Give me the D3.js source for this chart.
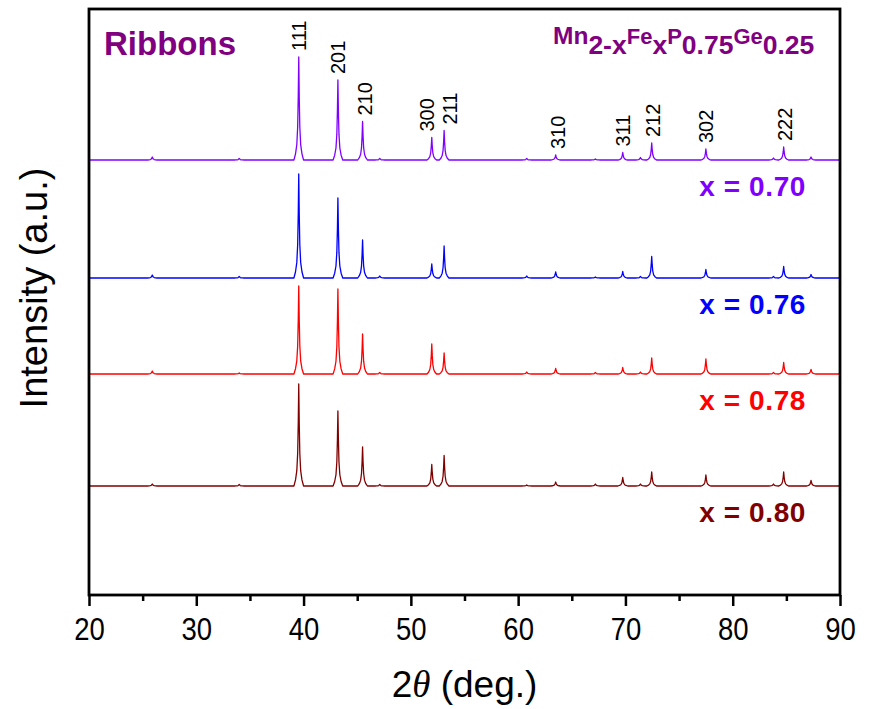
<!DOCTYPE html>
<html>
<head>
<meta charset="utf-8">
<script src="https://cdn.jsdelivr.net/npm/d3@7"></script>
<style>
  html, body { margin: 0; padding: 0; background: #fff; }
  svg { display: block; }
  text { font-family: "Liberation Sans", Arial, sans-serif; }
</style>
</head>
<body>
<svg id="chart" width="875" height="709"></svg>
<script>
// Reflection positions (2θ, deg.) present in every pattern, incl. weak impurity/background bumps
const peakPos = [25.9, 34.0, 39.55, 43.2, 45.5, 47.1, 51.95, 53.1, 60.8, 63.5, 67.2, 69.75, 71.4, 72.45, 77.5, 83.8, 84.75, 87.3];

// Peak intensities above background (a.u.) for each composition
const h070 = [3, 1.5, 103, 80, 38.5, 1.5, 22.5, 29.5, 1.5, 5, 1, 7.5, 2.5, 17, 11, 2, 13, 3];
const h076 = [3, 1.5, 104, 80, 38, 2, 14, 32, 2, 6, 1, 6.5, 1.5, 21.5, 8.5, 1.5, 11.5, 3.5];
const h078 = [3, 1, 88, 85, 40, 1.5, 30, 21, 2, 5.5, 1.5, 6.5, 2, 16, 15, 1.5, 11.5, 4.5];
const h080 = [2, 1.5, 102, 75, 39, 1.5, 21.5, 30.5, 1, 4, 2, 8.5, 2, 14, 11, 2, 14, 5.5];

// Vertical stacking offsets of the patterns (a.u.)
const offsets = [435, 317, 221, 109];
const compositions = ["x = 0.70", "x = 0.76", "x = 0.78", "x = 0.80"];

// Miller indices of the indexed reflections
const hkl = ["111", "201", "210", "300", "211", "310", "311", "212", "302", "222"];
const hklPos = [39.55, 43.2, 45.5, 51.95, 53.1, 63.5, 69.75, 72.45, 77.5, 84.75];

// Axis ticks
const majorTicks = [20, 30, 40, 50, 60, 70, 80, 90];
const minorTicks = [25, 35, 45, 55, 65, 75, 85];

// Normalised peak profile: [Δ2θ, fraction of peak height]
const profile = [[-0.45, 0], [-0.3, 0.06], [-0.18, 0.15], [-0.1, 0.32], [-0.045, 0.62], [0, 1],
                 [0.045, 0.62], [0.1, 0.32], [0.18, 0.15], [0.3, 0.06], [0.45, 0]];

const colors = ["#8000ff", "#0000ff", "#ff0000", "#800000"];
const heights = [h070, h076, h078, h080];

const svg = d3.select("#chart");
const margin = { left: 89, right: 35, top: 9, bottom: 114 };
const W = 875, H = 709;
const x = d3.scaleLinear().domain([20, 90]).range([margin.left, W - margin.right]);
const y = d3.scaleLinear().domain([0, 586]).range([H - margin.bottom, margin.top]);

svg.append("defs").append("clipPath").attr("id", "plot-clip")
  .append("rect")
  .attr("x", x(20)).attr("y", y(586))
  .attr("width", x(90) - x(20)).attr("height", y(0) - y(586));

// Build the polyline of one pattern from its peak list
function patternPoints(hs, off) {
  const pts = [[20, off]];
  peakPos.forEach((p, i) => {
    profile.forEach(([d, f]) => pts.push([p + d, off + hs[i] * f]));
  });
  pts.push([90, off]);
  return pts;
}

const line = d3.line().x(d => x(d[0])).y(d => y(d[1]));

const traces = svg.append("g").attr("clip-path", "url(#plot-clip)");
heights.forEach((hs, k) => {
  traces.append("path")
    .attr("d", line(patternPoints(hs, offsets[k])))
    .attr("fill", "none")
    .attr("stroke", colors[k])
    .attr("stroke-width", 1.3)
    .attr("stroke-linejoin", "round");
});

// Composition labels under each pattern
compositions.forEach((c, k) => {
  svg.append("text")
    .attr("x", 806)
    .attr("y", y(offsets[k]) + 36)
    .attr("text-anchor", "end")
    .attr("font-size", 28)
    .attr("letter-spacing", 0.6)
    .attr("font-weight", "bold")
    .attr("fill", colors[k])
    .text(c);
});

// hkl labels over the top pattern
const nudge = { "210": 2, "300": -5, "211": 6, "310": 2, "212": 1, "222": 1 };
hkl.forEach((lab, i) => {
  const idx = peakPos.indexOf(hklPos[i]);
  const top = y(offsets[0] + h070[idx]) - 6;
  const cx = x(hklPos[i]) + (nudge[lab] || 0);
  svg.append("text")
    .attr("transform", `translate(${cx},${top}) rotate(-90)`)
    .attr("dy", "0.36em")
    .attr("font-size", 20)
    .attr("fill", "#000")
    .text(lab);
});

// X axis: major and minor ticks (labels set in a condensed style)
const xAxis = d3.axisBottom(x).tickValues(majorTicks).tickSize(11).tickPadding(13).tickFormat(d3.format("d"));
const gx = svg.append("g").attr("transform", `translate(0,${y(0)})`).call(xAxis);
gx.select(".domain").remove();
gx.selectAll(".tick line").attr("stroke", "#000").attr("stroke-width", 2.5);
gx.selectAll(".tick text")
  .attr("font-size", 32).attr("fill", "#000")
  .attr("font-family", "'Liberation Sans', Arial, sans-serif")
  .attr("y", 0).attr("dy", null)
  .attr("transform", "translate(0,45) scale(0.86,1)");

const xMinor = d3.axisBottom(x).tickValues(minorTicks).tickSize(6).tickFormat("");
const gm = svg.append("g").attr("transform", `translate(0,${y(0)})`).call(xMinor);
gm.select(".domain").remove();
gm.selectAll(".tick line").attr("stroke", "#000").attr("stroke-width", 2.5);

// Frame
svg.append("rect")
  .attr("x", x(20)).attr("y", y(586))
  .attr("width", x(90) - x(20)).attr("height", y(0) - y(586))
  .attr("fill", "none").attr("stroke", "#000").attr("stroke-width", 2.8);

// Axis titles
svg.append("text")
  .attr("transform", `translate(47,${(y(0) + y(586)) / 2 - 14}) rotate(-90)`)
  .attr("text-anchor", "middle")
  .attr("font-size", 38)
  .attr("fill", "#000")
  .text("Intensity (a.u.)");

const xt = svg.append("text")
  .attr("x", (x(20) + x(90)) / 2)
  .attr("y", 697)
  .attr("text-anchor", "middle")
  .attr("font-size", 37)
  .attr("fill", "#000");
xt.append("tspan").text("2");
xt.append("tspan").attr("font-family", "'Liberation Serif', 'Times New Roman', serif")
  .attr("font-style", "italic").text("θ");
xt.append("tspan").text(" (deg.)");

// Sample title and formula
svg.append("text")
  .attr("x", 104).attr("y", 55)
  .attr("font-size", 33).attr("font-weight", "bold")
  .attr("fill", "#800080")
  .text("Ribbons");

const formula = [
  ["Mn", 24.5, 0], ["2-x", 26.5, 10], ["Fe", 22, 0], ["x", 26.5, 10],
  ["P", 22, 0], ["0.75", 26.5, 10], ["Ge", 22, 0], ["0.25", 26.5, 10]
];
const ft = svg.append("text")
  .attr("x", 553).attr("y", 44)
  .attr("font-weight", "bold")
  .attr("fill", "#800080");
formula.forEach(([s, fs, sh]) => {
  ft.append("tspan").attr("font-size", fs).attr("y", 44 + sh).text(s);
});
</script>
</body>
</html>
